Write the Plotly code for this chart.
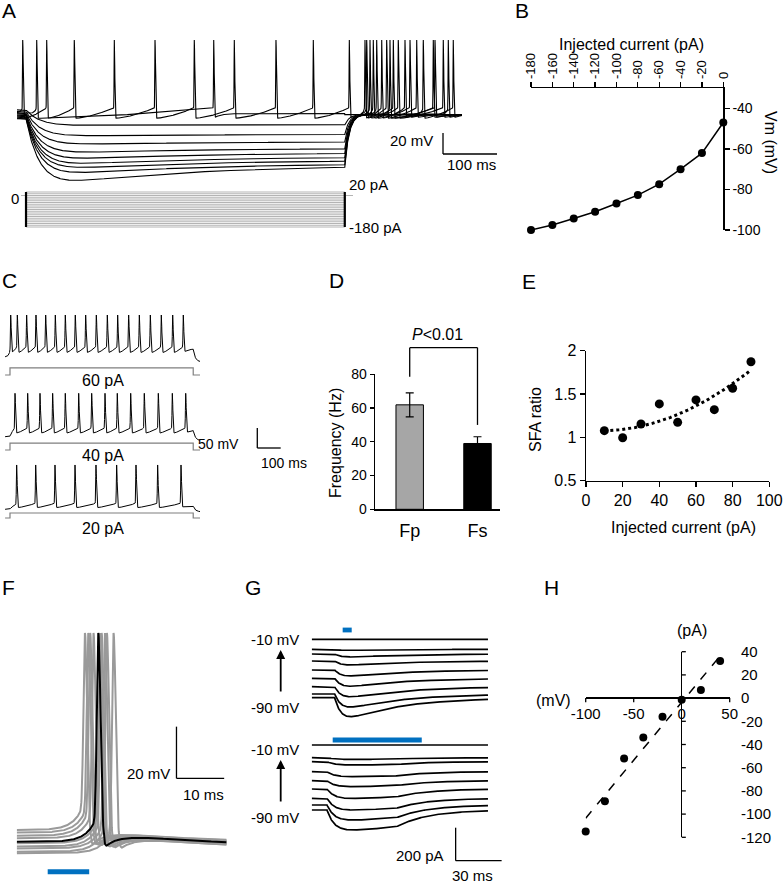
import numpy as np
import plotly.graph_objects as go

W, H = 783, 885
FONT = "Liberation Sans, Arial, Helvetica, sans-serif"
NARROW = "Liberation Sans Narrow, Arial Narrow, Liberation Sans, Arial, sans-serif"
BLUE = "#0070c0"
TRACE_GRAY = "#9a9a9a"
STEP_GRAY = "#b4b4b4"

# ======================= DATA =======================
# Panel A: current-clamp steps
a_pulse_on_ms = 16.7
a_pulse_off_ms = 607.0
a_trace_end_ms = 824.0
a_rest_mv = -47.0
a_spike_peak_mv = 22.5
a_step_currents_pa = [20, 10, 0, -10, -20, -30, -40, -50, -60, -70, -80, -90,
                      -100, -110, -120, -130, -140, -150, -160, -170, -180]
a_spikes_20pa_ms = [10.6, 55.0, 106.1, 180.2, 255.6, 328.3, 402.4, 479.6, 548.7, 615.4]
a_spikes_0pa_ms = [36.5, 364.3]
a_hyper_currents_pa = [-20, -40, -60, -80, -100, -120, -140, -160, -180]
a_hyper_peak_mv = [-59.0, -69.0, -77.0, -85.0, -91.0, -96.0, -100.0, -105.0, -113.0]
a_hyper_steady_mv = [-58.4, -67.3, -74.3, -80.6, -84.8, -88.6, -91.8, -94.9, -96.5]
a_pre_rest_mv = [-44.0, -45.5, -47.0, -48.0, -49.0, -50.0, -51.0, -52.0, -52.5]
a_rebound_spikes_ms = [[], [798.7], [752.4, 807.9], [690.7, 774.1], [666.1, 727.8],
                       [659.8, 706.1, 789.4], [653.7, 696.9, 770.9],
                       [647.6, 684.6, 740.2], [644.4, 675.4, 718.5]]
a_scale_mv, a_scale_ms = 20, 100

# Panel B: V-I relation
b_current_pa = [-180, -160, -140, -120, -100, -80, -60, -40, -20, 0]
b_vm_mv = [-100.0, -97.5, -94.3, -91.0, -86.9, -82.8, -77.4, -70.0, -62.1, -47.0]
b_xticks = [-180, -160, -140, -120, -100, -80, -60, -40, -20, 0]
b_yticks = [-40, -60, -80, -100]

# Panel C: spike trains
c_labels = ["60 pA", "40 pA", "20 pA"]
c_spikes_ms = [
    [3.0, 31.3, 71.2, 111.1, 152.4, 193.7, 236.4, 279.1, 323.4, 369.0, 415.9, 460.1,
     507.1, 552.7, 599.7, 646.6, 695.3, 740.6],
    [21.4, 75.6, 128.2, 182.3, 236.3, 293.6, 349.1, 406.0, 458.5, 515.8, 574.0, 633.8,
     693.7, 750.9],
    [28.5, 109.8, 192.3, 277.8, 367.5, 455.8, 538.5, 631.0, 730.8],
]
c_foot_mv = [-44.0, -48.0, -55.0]
c_ahp_mv = [-60.0, -61.5, -66.0]
c_peak_mv = [35.0, 38.5, 40.8]
c_post_mv = [-82.0, -80.0, -76.0]
c_pulse_off_ms = 783.0
c_rest_mv = -70.0
c_scale_mv, c_scale_ms = 50, 100

# Panel D: firing frequency
d_groups = ["Fp", "Fs"]
d_freq_hz = [61.9, 39.0]
d_sem_hz = [7.1, 4.0]
d_yticks = [0, 20, 40, 60, 80]

# Panel E: SFA ratio
e_current_pa = [10, 20, 30, 40, 50, 60, 70, 80, 90]
e_sfa = [1.077, 0.996, 1.154, 1.386, 1.173, 1.432, 1.320, 1.567, 1.873]
e_xticks = [0, 20, 40, 60, 80, 100]
e_yticks = [0.5, 1.0, 1.5, 2.0]
e_yticktext = ["0.5", "1", "1.5", "2"]

# Panel F: light-evoked spikes
f_gray_spike_ms = [14.3, 15.0, 15.4, 16.1, 17.5, 17.8, 18.5, 18.9, 20.3]
f_gray_base_mv = [-60.5, -61.5, -62.7, -63.7, -65.6, -66.9, -67.6, -68.9, -69.5]
f_black_spike_ms = 17.1
f_black_base_mv = -65.0
f_peak_mv = 15.7
f_light_ms = [6.5, 15.2]
f_scale_mv, f_scale_ms = 20, 10

# Panel G: light-evoked currents
g_holding_mv = [-10, -20, -30, -40, -50, -60, -70, -80, -90]
g_brief_amp_pa = [0, 6, 18, 24, 36, 48, 61, 79, 115]
g_long_amp_pa = [0, 10, 20, 30, 36, 57, 71, 91, 121]
g_brief_light_ms = [20.2, 26.1]
g_long_light_ms = [13.7, 71.8]
g_scale_pa, g_scale_ms = 200, 30

# Panel H: I-V relation
h_vm_mv = [-100, -80, -60, -40, -20, 0, 20, 40]
h_current_pa = [-115.0, -89.0, -52.0, -34.0, -16.0, -1.5, 7.0, 32.0]
h_xticks = [-100, -50, 0, 50]
h_yticks = [40, 20, 0, -20, -40, -60, -80, -100, -120]

# ======================= LAYOUT HELPERS =======================
layout = dict(width=W, height=H,
              margin=dict(l=0, r=0, t=0, b=0, pad=0, autoexpand=False),
              paper_bgcolor="white", plot_bgcolor="rgba(0,0,0,0)",
              showlegend=False, font=dict(family=FONT, size=14, color="black"),
              hovermode=False)
annotations, shapes = [], []


def tick_text(vals):
    return [str(v) for v in vals]


class Frame:
    def __init__(self, n, left, right, top, bottom, xr, yr):
        self.n = n
        self.left, self.right, self.top, self.bottom = left, right, top, bottom
        self.xr, self.yr = xr, yr
        self.xa = "x" if n == 1 else "x%d" % n
        self.ya = "y" if n == 1 else "y%d" % n
        self.xname = "xaxis" if n == 1 else "xaxis%d" % n
        self.yname = "yaxis" if n == 1 else "yaxis%d" % n

    def X(self, v):
        return float((self.left + (v - self.xr[0]) / (self.xr[1] - self.xr[0])
                      * (self.right - self.left)) / W)

    def Y(self, v):
        return float(1 - (self.bottom - (v - self.yr[0]) / (self.yr[1] - self.yr[0])
                          * (self.bottom - self.top)) / H)

    def axes(self, xkw=None, ykw=None, visible=False):
        xk = dict(domain=[self.left / W, self.right / W], range=list(self.xr),
                  anchor=self.ya, showgrid=False, zeroline=False, fixedrange=True,
                  visible=visible, automargin=False)
        yk = dict(domain=[1 - self.bottom / H, 1 - self.top / H], range=list(self.yr),
                  anchor=self.xa, showgrid=False, zeroline=False, fixedrange=True,
                  visible=visible, automargin=False)
        xk.update(xkw or {})
        yk.update(ykw or {})
        layout[self.xname] = xk
        layout[self.yname] = yk


def seg(fr, x0, y0, x1, y1, color="black", width=1.3):
    shapes.append(dict(type="line", xref="paper", yref="paper",
                       x0=fr.X(x0), y0=fr.Y(y0), x1=fr.X(x1), y1=fr.Y(y1),
                       line=dict(color=color, width=width)))


def rect(fr, x0, x1, yc, half_px, color):
    yp = fr.Y(yc)
    shapes.append(dict(type="rect", xref="paper", yref="paper",
                       x0=fr.X(x0), x1=fr.X(x1), y0=yp - half_px / H, y1=yp + half_px / H,
                       fillcolor=color, line=dict(width=0)))


def label(xp, yp, text, size=15, xanchor="center", angle=0, family=FONT):
    annotations.append(dict(x=xp / W, y=1 - yp / H, xref="paper", yref="paper",
                            text=text, showarrow=False, xanchor=xanchor, yanchor="middle",
                            textangle=angle, font=dict(size=size, family=family, color="black")))


def line_trace(fr, x, y, color="black", width=1.0, mode="lines", **kw):
    fig.add_trace(go.Scatter(x=x, y=y, mode=mode, line=dict(color=color, width=width),
                             xaxis=fr.xa, yaxis=fr.ya, hoverinfo="skip", **kw))


def grid(t0, t1, dt, extra):
    g = np.arange(t0, t1 + dt / 2, dt)
    ex = [e for e in extra if t0 <= e <= t1]
    return np.union1d(g, ex)


def spiking(t, base, spikes, foot, ahp, peak, w_r, w_f, tau_pre, tau_post, p=1.6):
    v = base.copy()
    s = np.asarray(spikes, float)
    if s.size == 0:
        return v
    for a, b in zip(s[:-1], s[1:]):
        m = (t >= a) & (t < b)
        f = (t[m] - a) / (b - a)
        v[m] = ahp + (foot - ahp) * f ** p
    m = t < s[0]
    v[m] = base[m] + (foot - base[m]) * np.exp(-(s[0] - t[m]) / tau_pre)
    m = t >= s[-1]
    v[m] = base[m] + (ahp - base[m]) * np.exp(-(t[m] - s[-1]) / tau_post)
    for sk in s:
        x = t - sk
        w = np.where(x < 0, w_r, w_f)
        k = np.exp(-0.5 * (x / w) ** 2)
        v = v + (peak - v) * k
    return v


fig = go.Figure()

# ======================= PANEL A =======================
fa = Frame(1, 17, 17 + 895 * 0.54, 38, 190, (0, 895), (-120.33, 24.43))
fa.axes()
fa2 = Frame(2, 17, 17 + 895 * 0.54, 186, 232, (0, 895), (-208.6, 54.3))
fa2.axes()

A_TAU_M, A_TAU_SAG, A_TAU_OFF = 25.0, 250.0, 8.0
A_POST_MV, A_FOOT, A_AHP = -48.5, -42.0, -52.0

_dd = np.linspace(0, 600, 6001)
A_BMAX = (np.exp(-_dd / A_TAU_SAG) - np.exp(-_dd / A_TAU_M)).max()


def a_base_spiking(t, dep):
    v = np.full(t.shape, a_rest_mv)
    v[(t >= a_pulse_on_ms) & (t < a_pulse_off_ms)] = dep
    v[t >= a_pulse_off_ms] = A_POST_MV
    return v


def a_base_hyper(t, vpk, vss, v0):
    v = np.full(t.shape, v0)
    d = t - a_pulse_on_ms

    def during(dd):
        return (v0 + (vss - v0) * (1 - np.exp(-dd / A_TAU_M))
                + (vpk - vss) * (np.exp(-dd / A_TAU_SAG) - np.exp(-dd / A_TAU_M)) / A_BMAX)
    m = (t >= a_pulse_on_ms) & (t < a_pulse_off_ms)
    v[m] = during(d[m])
    v_off = during(a_pulse_off_ms - a_pulse_on_ms)
    m = t >= a_pulse_off_ms
    v[m] = A_POST_MV + (v_off - A_POST_MV) * np.exp(-(t[m] - a_pulse_off_ms) / A_TAU_OFF)
    return v


for vpk, vss, v0, reb in zip(a_hyper_peak_mv, a_hyper_steady_mv, a_pre_rest_mv,
                             a_rebound_spikes_ms):
    t = grid(0, a_trace_end_ms, 0.25, reb)
    v = spiking(t, a_base_hyper(t, vpk, vss, v0), reb, A_FOOT, A_AHP, a_spike_peak_mv,
                0.4, 0.9, 4.0, 12.0)
    line_trace(fa, t, v, width=1.1)

for spikes, dep in ((a_spikes_0pa_ms, -47.5), (a_spikes_20pa_ms, -44.0)):
    t = grid(0, a_trace_end_ms, 0.25, spikes)
    v = spiking(t, a_base_spiking(t, dep), spikes, A_FOOT, A_AHP, a_spike_peak_mv,
                0.4, 0.9, 4.0, 12.0)
    line_trace(fa, t, v, width=1.1)

# current steps
sx, sy = [], []
for cur in a_step_currents_pa:
    sx += [a_pulse_on_ms - 8, a_pulse_on_ms, a_pulse_on_ms, a_pulse_off_ms,
           a_pulse_off_ms, a_pulse_off_ms + 15, None]
    sy += [0, 0, cur, cur, 0, 0, None]
line_trace(fa2, sx, sy, color=STEP_GRAY, width=1.0)
line_trace(fa2, [a_pulse_on_ms, a_pulse_on_ms, None, a_pulse_off_ms, a_pulse_off_ms],
           [max(a_step_currents_pa), min(a_step_currents_pa), None,
            max(a_step_currents_pa), min(a_step_currents_pa)], width=2.2)

# scale bar A
sb_t, sb_v = 788.9, -66.05
seg(fa, sb_t, sb_v, sb_t, sb_v - a_scale_mv)
seg(fa, sb_t, sb_v - a_scale_mv, sb_t + a_scale_ms, sb_v - a_scale_mv)
label(435, 141, "%d mV" % a_scale_mv, 15, xanchor="right")
label(471, 165, "%d ms" % a_scale_ms, 15)
label(347, 185, "%d pA" % max(a_step_currents_pa), 15, xanchor="left")
label(347, 228, "%d pA" % min(a_step_currents_pa), 15, xanchor="left")
label(15, 199, "0", 15)

# ======================= PANEL B =======================
fb = Frame(3, 531, 723.3, 88.0, 230, (-180, 0), (-100, -30))
tick_common = dict(showline=True, linecolor="black", linewidth=1.3, ticks="outside",
                   ticklen=5, tickwidth=1.3, tickcolor="black")
fb.axes(xkw=dict(visible=True, side="top", tickvals=b_xticks, ticktext=tick_text(b_xticks),
                 tickangle=-90, tickfont=dict(size=13, family=FONT), **tick_common),
        ykw=dict(visible=True, side="right", tickvals=b_yticks, ticktext=tick_text(b_yticks),
                 tickfont=dict(size=14, family=FONT), **tick_common))
fig.add_trace(go.Scatter(x=b_current_pa, y=b_vm_mv, mode="lines+markers",
                         line=dict(color="black", width=1.5),
                         marker=dict(color="black", size=8), cliponaxis=False,
                         xaxis=fb.xa, yaxis=fb.ya, hoverinfo="skip"))
label(631, 45, "Injected current (pA)", 16)
label(771, 142, "Vm (mV)", 16, angle=90)

# ======================= PANEL C =======================
fc = Frame(4, 0, 300, 300, 540, (-42.7, 1239.3), (-527.5, 72.5))
fc.axes()
c_offsets = [0.0, -199.25, -380.75]
c_step_base = [-115.0, -302.5, -472.5]
c_step_height = [18.0, 17.0, 12.5]
C_TAU = 8.0
for i, spikes in enumerate(c_spikes_ms):
    t = grid(-21.0, 812.0, 0.5, spikes)
    base = np.full(t.shape, c_rest_mv)
    m = (t >= 0) & (t < c_pulse_off_ms)
    dep = c_foot_mv[i] - 6
    base[m] = c_rest_mv + (dep - c_rest_mv) * (1 - np.exp(-t[m] / C_TAU))
    m = t >= c_pulse_off_ms
    base[m] = c_post_mv[i] + (dep - c_post_mv[i]) * np.exp(-(t[m] - c_pulse_off_ms) / C_TAU)
    v = spiking(t, base, spikes, c_foot_mv[i], c_ahp_mv[i], c_peak_mv[i],
                1.2, 2.2, 6.0, 15.0, p=1.4)
    line_trace(fc, t, v + c_offsets[i], width=1.0)
    b0, hh = c_step_base[i], c_step_height[i]
    line_trace(fc, [-21.0, 0, 0, c_pulse_off_ms, c_pulse_off_ms, 812.0],
               [b0, b0, b0 + hh, b0 + hh, b0, b0], color="#7f7f7f", width=1.2)
label(103, 380, c_labels[0], 16)
label(103, 455, c_labels[1], 16)
label(103, 528, c_labels[2], 16)
csb_t, csb_y = 1056.8, -247.5
seg(fc, csb_t, csb_y, csb_t, csb_y - c_scale_mv)
seg(fc, csb_t, csb_y - c_scale_mv, csb_t + c_scale_ms, csb_y - c_scale_mv)
label(241, 444, "%d mV" % c_scale_mv, 14, xanchor="right")
label(284, 463, "%d ms" % c_scale_ms, 14)

# ======================= PANEL D =======================
fd = Frame(5, 375, 500, 374.3, 509.3, (-0.512, 1.332), (0, 80))
fd.axes(xkw=dict(visible=True, type="category", showline=True, linecolor="black",
                 linewidth=1.3, ticks="", tickfont=dict(size=18, family=FONT),
                 ticklabelstandoff=5),
        ykw=dict(visible=True, tickvals=d_yticks, showline=True, linecolor="black",
                 linewidth=1.3, ticks="outside", ticklen=4, tickwidth=1.3,
                 tickcolor="black", tickfont=dict(size=14, family=NARROW)))
fig.add_trace(go.Bar(x=d_groups, y=d_freq_hz, width=[0.405] * len(d_groups),
                     marker=dict(color=["#a6a6a6", "#000000"],
                                 line=dict(color="black", width=1)),
                     error_y=dict(type="data", array=d_sem_hz, color="black",
                                  thickness=1.2, width=4),
                     xaxis=fd.xa, yaxis=fd.ya, hoverinfo="skip"))
# significance bracket
br_top = 95.8
seg(fd, 0, 78.6, 0, br_top)
seg(fd, 0, br_top, 1, br_top)
seg(fd, 1, br_top, 1, 50.0)
label(438, 335, "<i>P</i>&lt;0.01", 16)
label(335, 443, "Frequency (Hz)", 16, angle=-90)

# ======================= PANEL E =======================
fe = Frame(6, 586, 769.3, 350.7, 480.7, (0, 100), (0.5, 2.0))
fe.axes(xkw=dict(visible=True, tickvals=e_xticks, tickfont=dict(size=16, family=FONT),
                 ticklabeloverflow="allow", **tick_common),
        ykw=dict(visible=True, tickvals=e_yticks, ticktext=e_yticktext,
                 tickfont=dict(size=16, family=FONT), **tick_common))
coef = np.polyfit(e_current_pa, e_sfa, 2)
fx = np.linspace(min(e_current_pa), max(e_current_pa), 200)
fig.add_trace(go.Scatter(x=fx, y=np.polyval(coef, fx), mode="lines",
                         line=dict(color="black", width=3, dash="dot"),
                         xaxis=fe.xa, yaxis=fe.ya, hoverinfo="skip"))
fig.add_trace(go.Scatter(x=e_current_pa, y=e_sfa, mode="markers",
                         marker=dict(color="black", size=9), cliponaxis=False,
                         xaxis=fe.xa, yaxis=fe.ya, hoverinfo="skip"))
label(683, 527, "Injected current (pA)", 16)
label(535, 420, "SFA ratio", 16, angle=-90)

# ======================= PANEL F =======================
ff = Frame(7, 16.7, 226.7, 620, 880, (0, 44.03), (-79.82, 20.76))
ff.axes()
F_PRE_AMP, F_TAU_PRE, F_AHP, F_HUMP, F_TAU_HUMP = 11.0, 2.1, -72.0, 2.5, 8.0


def f_trace(s, vb):
    t = grid(0, 44.0, 0.05, [s])
    v = np.empty(t.shape)
    pre = t < s
    v[pre] = vb + F_PRE_AMP * np.exp(-(s - t[pre]) / F_TAU_PRE)
    x = t[~pre] - s
    v_late = -66.0 + 0.25 * (vb + 65.0)
    v[~pre] = (v_late + (F_AHP - v_late) * np.exp(-x / 1.5)
               + F_HUMP * (x / F_TAU_HUMP) * np.exp(1 - x / F_TAU_HUMP))
    xx = t - s
    w = np.where(xx < 0, 0.3, 0.5)
    k = np.exp(-0.5 * (xx / w) ** 2)
    return t, v + (f_peak_mv - v) * k


for s, vb in zip(f_gray_spike_ms, f_gray_base_mv):
    t, v = f_trace(s, vb)
    line_trace(ff, t, v, color=TRACE_GRAY, width=2.0)
t, v = f_trace(f_black_spike_ms, f_black_base_mv)
line_trace(ff, t, v, color="black", width=2.0)
rect(ff, f_light_ms[0], f_light_ms[1], -76.6, 2.5, BLUE)
fsb_t, fsb_v = 33.5, -20.5
seg(ff, fsb_t, fsb_v, fsb_t, fsb_v - f_scale_mv)
seg(ff, fsb_t, fsb_v - f_scale_mv, fsb_t + f_scale_ms, fsb_v - f_scale_mv)
label(172, 773, "%d mV" % f_scale_mv, 15, xanchor="right")
label(203, 794, "%d ms" % f_scale_ms, 15)

# ======================= PANEL G =======================
fg = Frame(8, 311.7, 505, 625, 862, (0, 126.1), (-1349.7, 86.7))
fg.axes()
g_top_offsets = [0, -60.6, -89.1, -131.5, -186.0, -236.4, -287.3, -331.5, -354.0]
g_bot_offsets = [-640.6, -717.6, -741.8, -802.4, -857.0, -907.3, -963.6, -1004.2, -1034.5]
gt = np.arange(0, 115.25, 0.25)


def g_brief_shape(t):
    d = np.clip(t - 15.0, 0, None)
    f = (1 - np.exp(-d / 5.0)) * np.exp(-d / 35.0)
    return f / f.max()


def g_long_shape(t):
    d = np.clip(t - 10.0, 0, None)
    f = (1 - np.exp(-d / 5.0)) * np.exp(-d / 150.0)
    t1 = 55.0
    d1 = t1 - 10.0
    f1 = (1 - np.exp(-d1 / 5.0)) * np.exp(-d1 / 150.0)
    f = np.where(t < t1, f, f1 * np.exp(-(t - t1) / 20.0))
    return f / f.max()


for offsets, amps, shape in ((g_top_offsets, g_brief_amp_pa, g_brief_shape(gt)),
                             (g_bot_offsets, g_long_amp_pa, g_long_shape(gt))):
    xs, ys = [], []
    for off, amp in zip(offsets, amps):
        xs += list(gt) + [None]
        ys += list(off - amp * shape) + [None]
    line_trace(fg, xs, ys, color="black", width=1.7)
rect(fg, g_brief_light_ms[0], g_brief_light_ms[1], 56.4, 2.4, BLUE)
rect(fg, g_long_light_ms[0], g_long_light_ms[1], -610.3, 2.4, BLUE)
gsb_t, gsb_y = 93.9, -1141.8
seg(fg, gsb_t, gsb_y, gsb_t, gsb_y - g_scale_pa)
seg(fg, gsb_t, gsb_y - g_scale_pa, gsb_t + g_scale_ms, gsb_y - g_scale_pa)
label(420, 855, "%d pA" % g_scale_pa, 15)
label(472, 875, "%d ms" % g_scale_ms, 15)
for ytop, ybot in ((639, 707), (749, 817)):
    label(275, ytop, "%d mV" % max(g_holding_mv), 15)
    label(275, ybot, "%d mV" % min(g_holding_mv), 15)
    head_y, tail_y = ytop + 11, ybot - 14
    annotations.append(dict(x=280.7 / W, y=1 - head_y / H, ax=0, ay=tail_y - head_y,
                            xref="paper", yref="paper", axref="pixel", ayref="pixel",
                            text="", showarrow=True, arrowhead=2, arrowsize=1,
                            arrowwidth=1.8, arrowcolor="black"))

# ======================= PANEL H =======================
fh = Frame(9, 585.7, 729.7, 651.7, 837.3, (-100, 50), (-120, 40))
fh.axes(xkw=dict(visible=True, anchor="free", position=1 - 698.3 / H, tickvals=h_xticks,
                 ticktext=tick_text(h_xticks), ticks="", showline=False, zeroline=True,
                 zerolinecolor="black", zerolinewidth=1.5,
                 tickfont=dict(size=15, family=FONT), ticklabelstandoff=5),
        ykw=dict(visible=True, anchor="free", position=740 / W, side="right",
                 tickvals=h_yticks, ticktext=tick_text(h_yticks), ticks="",
                 showline=False, zeroline=True, zerolinecolor="black", zerolinewidth=1.5,
                 tickfont=dict(size=15, family=FONT)))
for xv in h_xticks:
    if xv != 0:
        seg(fh, xv, 0, xv, -3.5, width=1.3)
for yv in h_yticks:
    if yv != 0:
        seg(fh, 0, yv, 4.3, yv, width=1.3)
hc = np.polyfit(h_vm_mv, h_current_pa, 1)
hx = np.array([min(h_vm_mv), 37.0])
fig.add_trace(go.Scatter(x=hx, y=np.polyval(hc, hx), mode="lines",
                         line=dict(color="black", width=1.5, dash="dash"),
                         xaxis=fh.xa, yaxis=fh.ya, hoverinfo="skip", cliponaxis=False))
fig.add_trace(go.Scatter(x=h_vm_mv, y=h_current_pa, mode="markers",
                         marker=dict(color="black", size=8), cliponaxis=False,
                         xaxis=fh.xa, yaxis=fh.ya, hoverinfo="skip"))
label(553, 700, "(mV)", 16)
label(692, 630, "(pA)", 16)

# ======================= PANEL LETTERS =======================
panel_letters = ["A", "B", "C", "D", "E", "F", "G", "H"]
letter_pos = [(9, 11), (522, 11), (9, 280), (336, 280), (529, 281),
              (8, 587), (253, 587), (551, 587)]
for letter, (lx, ly) in zip(panel_letters, letter_pos):
    label(lx, ly, letter, 21)

layout["annotations"] = annotations
layout["shapes"] = shapes
fig.update_layout(**layout)
fig.write_html("out.html",
               config={"displayModeBar": False, "staticPlot": True},
               post_script="document.body.style.margin='0';"
                           "document.body.style.padding='0';"
                           "document.body.style.overflow='hidden';")
